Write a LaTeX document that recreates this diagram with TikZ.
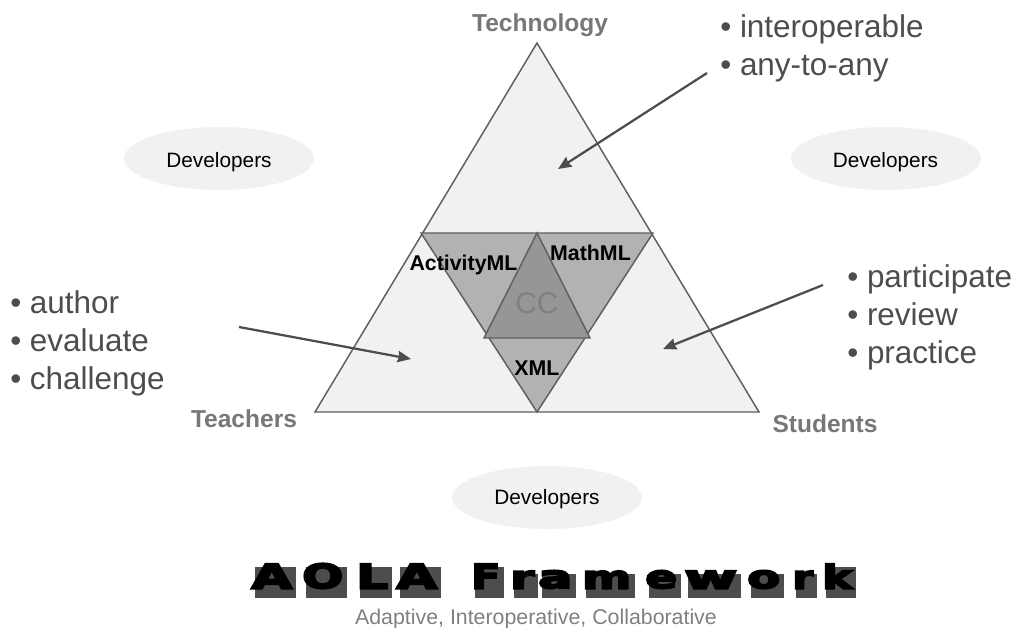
\documentclass[tikz,border=0pt]{standalone}
\usepackage{fontspec}
\usepackage{graphicx}
\setmainfont{Liberation Sans}
\newfontfamily\titlefont[FakeBold=5]{DejaVu Sans Bold}
\usetikzlibrary{shapes.geometric,arrows.meta,positioning,calc}
\definecolor{paleFill}{HTML}{F1F1F1}
\definecolor{midFill}{HTML}{B2B2B2}
\definecolor{darkFill}{HTML}{969696}
\definecolor{edgeGray}{HTML}{5F5F5F}
\definecolor{arrowGray}{HTML}{4D4D4D}
\definecolor{labelGray}{HTML}{777777}
\definecolor{listGray}{HTML}{4D4D4D}
\definecolor{subGray}{HTML}{808080}
\begin{document}
\begin{tikzpicture}[
    x=0.75pt, y=-0.75pt,
    devcloud/.style={ellipse, fill=paleFill, minimum width=142.5pt, minimum height=47.25pt, inner sep=0pt},
    devtext/.style={font=\fontsize{15.6}{18}\selectfont, inner sep=0pt},
    corner/.style={font=\fontsize{18.4}{20}\selectfont\bfseries, text=labelGray, inner sep=0pt},
    bullets/.style={align=left, anchor=north west, inner sep=0pt, text=listGray, font=\fontsize{23.6}{28.7}\selectfont},
    markup/.style={font=\fontsize{16}{18}\selectfont\bfseries, inner sep=0pt},
    tri/.style={draw=edgeGray, line width=1.1pt, line join=miter},
    arrow/.style={-{Stealth[inset=1pt,length=10pt,width=8.5pt]}, draw=arrowGray, line width=1.7pt}
]
\useasboundingbox (0,0) rectangle (1015,628);

% Triangles
\coordinate (apex) at (537,43);
\coordinate (left) at (315,412);
\coordinate (right) at (759,412);
\coordinate (midL) at (421,233);
\coordinate (midR) at (653,233);
\coordinate (midT) at (537,233);
\coordinate (ccL) at (484,338);
\coordinate (ccR) at (590,338);
\draw[tri, fill=paleFill] (apex) -- (right) -- (left) -- cycle;
\draw[tri, fill=midFill] (midL) -- (midR) -- (537,412) -- cycle;
\draw[tri, fill=darkFill] (midT) -- (ccR) -- (ccL) -- cycle;

% Inner labels
\node[font=\fontsize{22.5}{24}\selectfont, text=subGray, inner sep=0pt] (cc) at (537,303) {CC};
\node[markup] (activity) at (463.5,265) {ActivityML};
\node[markup] (math) at (590.5,253) {MathML};
\node[markup] (xml) at (537,368) {XML};

% Corner labels
\node[corner] (tech) at (540,25) {Technology};
\node[corner] (teachers) at (244,419) {Teachers};
\node[corner] (students) at (825,424) {Students};

% Developers
\node[devcloud] (dev1) at (219,158.5) {};
\node[devcloud] (dev2) at (886,158.5) {};
\node[devcloud] (dev3) at (547,497.5) {};
\node[devtext] at (219,162) {Developers};
\node[devtext] at (885.5,162) {Developers};
\node[devtext] at (547,499.5) {Developers};

% Bullet lists
\node[bullets] (techlist) at (720,14) {\textbullet\ interoperable\\\textbullet\ any-to-any};
\node[bullets] (teachlist) at (10,290) {\textbullet\ author\\\textbullet\ evaluate\\\textbullet\ challenge};
\node[bullets] (studlist) at (847,264) {\textbullet\ participate\\\textbullet\ review\\\textbullet\ practice};

% Arrows
\coordinate (a1s) at (707,73);
\coordinate (a1e) at (558,169);
\coordinate (a2s) at (239,327);
\coordinate (a2e) at (411,359);
\coordinate (a3s) at (823,285);
\coordinate (a3e) at (663,349);
\draw[arrow] (a1s) -- (a1e);
\draw[arrow] (a2s) -- (a2e);
\draw[arrow] (a3s) -- (a3e);

% Title
\foreach \ch/\xa/\xb/\ya [count=\i] in {A/251/292/561, O/302/343/561, L/356/388/561, A/396/437/561,
    F/471/500/561, r/510/534/568, a/538/572/568, m/582/631/568, e/645/677/568, w/684/737/568,
    o/747/780/568, r/792/813/568, k/822/852/561} {
  \fill[arrowGray] (\xa+4,\ya+6) rectangle (\xb+4,598);
  \pgfmathsetlengthmacro{\glyphw}{(\xb-\xa)*0.75pt}
  \pgfmathsetlengthmacro{\glyphh}{(588-\ya-2)*0.75pt}
  \node[anchor=south west, inner sep=0pt] (letter\i) at (\xa,589) {\resizebox{\glyphw}{\glyphh}{\titlefont\ch}};
}
\node[font=\fontsize{16}{18}\selectfont, text=subGray, inner sep=0pt] (subtitle) at (536,618.5) {Adaptive, Interoperative, Collaborative};
\end{tikzpicture}
\end{document}
